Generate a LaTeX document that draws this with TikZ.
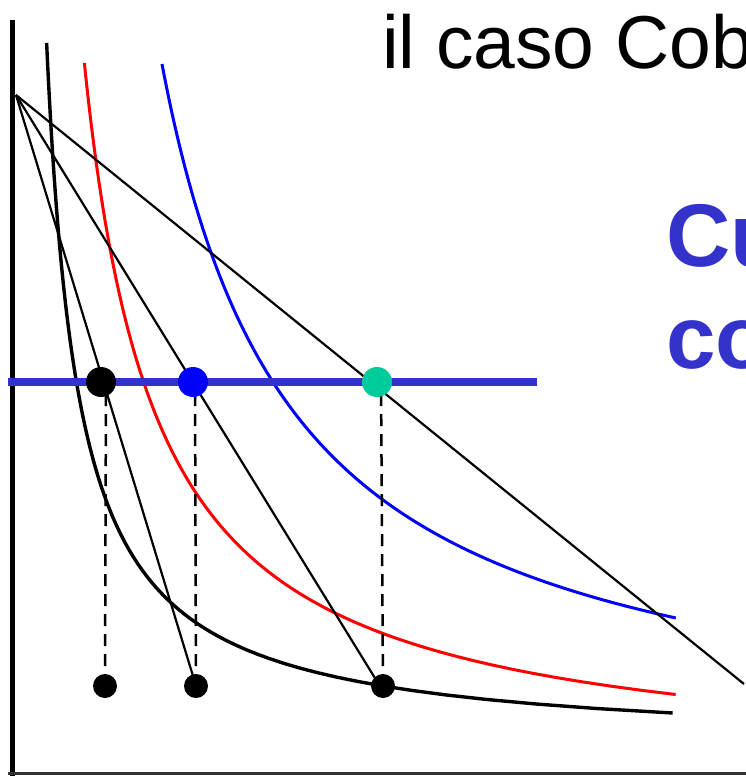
\documentclass[tikz,border=0pt]{standalone}
\usepackage{fontspec}
\setmainfont{Liberation Sans}
\definecolor{lineblue}{RGB}{51,51,204}
\definecolor{dotgreen}{RGB}{0,204,153}
\begin{document}
\begin{tikzpicture}[x=1pt,y=-1pt,
  axis/.style={line width=5pt, line cap=butt},
  budget/.style={line width=2.2pt, black},
  icurve/.style={line width=3pt},
  dot/.style={circle, fill, inner sep=0pt, minimum size=30pt},
  smalldot/.style={circle, fill=black, inner sep=0pt, minimum size=24pt},
  proj/.style={dash pattern=on 12pt off 8pt, line width=2.5pt},
  hline/.style={line width=8pt, lineblue},
]
\useasboundingbox (0,0) rectangle (746,776);
\clip (0,0) rectangle (746,776);
% axes
\coordinate (Ytop) at (12,20);
\coordinate (Ybot) at (12,776);
\coordinate (Xl) at (8,773);
\coordinate (Xr) at (746,773);
\draw[axis] (Ytop) -- (Ybot);
\draw[line width=3pt, black!80] (Xl) -- (Xr);
% indifference curves
\draw[icurve, black, line width=3.4pt] plot[domain=43:713, samples=150] ({14.5 + 226.4/((747.4-\x)/100)}, \x);
\draw[icurve, red] plot[domain=63:694.5, samples=150] ({12 + 513/((771.8-\x)/100)}, \x);
\draw[icurve, blue] plot[domain=64:618, samples=150] ({30 + 919/((760.3-\x)/100)}, \x);
% budget lines
\coordinate (O) at (16,95);
\coordinate (E1) at (744,684);
\coordinate (E2) at (378,683);
\coordinate (E3) at (193,676);
\draw[budget] (O) -- (E1);
\draw[budget] (O) -- (E2);
\draw[budget] (O) -- (E3);
% horizontal line
\coordinate (L1) at (8,382);
\coordinate (L2) at (537,382);
\draw[hline] (L1) -- (L2);
% bottom dots
\node[smalldot] (q1) at (105,686) {};
\node[smalldot] (q2) at (196,686) {};
\node[smalldot] (q3) at (383,686) {};
% top dots
\coordinate (d1) at (106,382);
\coordinate (d2) at (195,382);
\coordinate (d3) at (381,382);
\draw[proj] (q1.center) -- (d1);
\draw[proj] (q2.center) -- (d2);
\draw[proj] (q3.center) -- (d3);
\node[dot, fill=black] (p1) at (101,382) {};
\node[dot, fill=blue] (p2) at (193,382) {};
\node[dot, fill=dotgreen] (p3) at (377,382) {};
% texts
\node[anchor=base west, inner sep=0pt, font=\fontsize{75}{90}\selectfont] (title) at (382,68) {il caso Cob};
\node[anchor=base west, inner sep=0pt, text=lineblue, font=\fontsize{89}{100}\selectfont\bfseries] (t1) at (666,266) {Cu};
\node[anchor=base west, inner sep=0pt, text=lineblue, font=\fontsize{89}{100}\selectfont\bfseries] (t2) at (666,368) {co};
\end{tikzpicture}
\end{document}
